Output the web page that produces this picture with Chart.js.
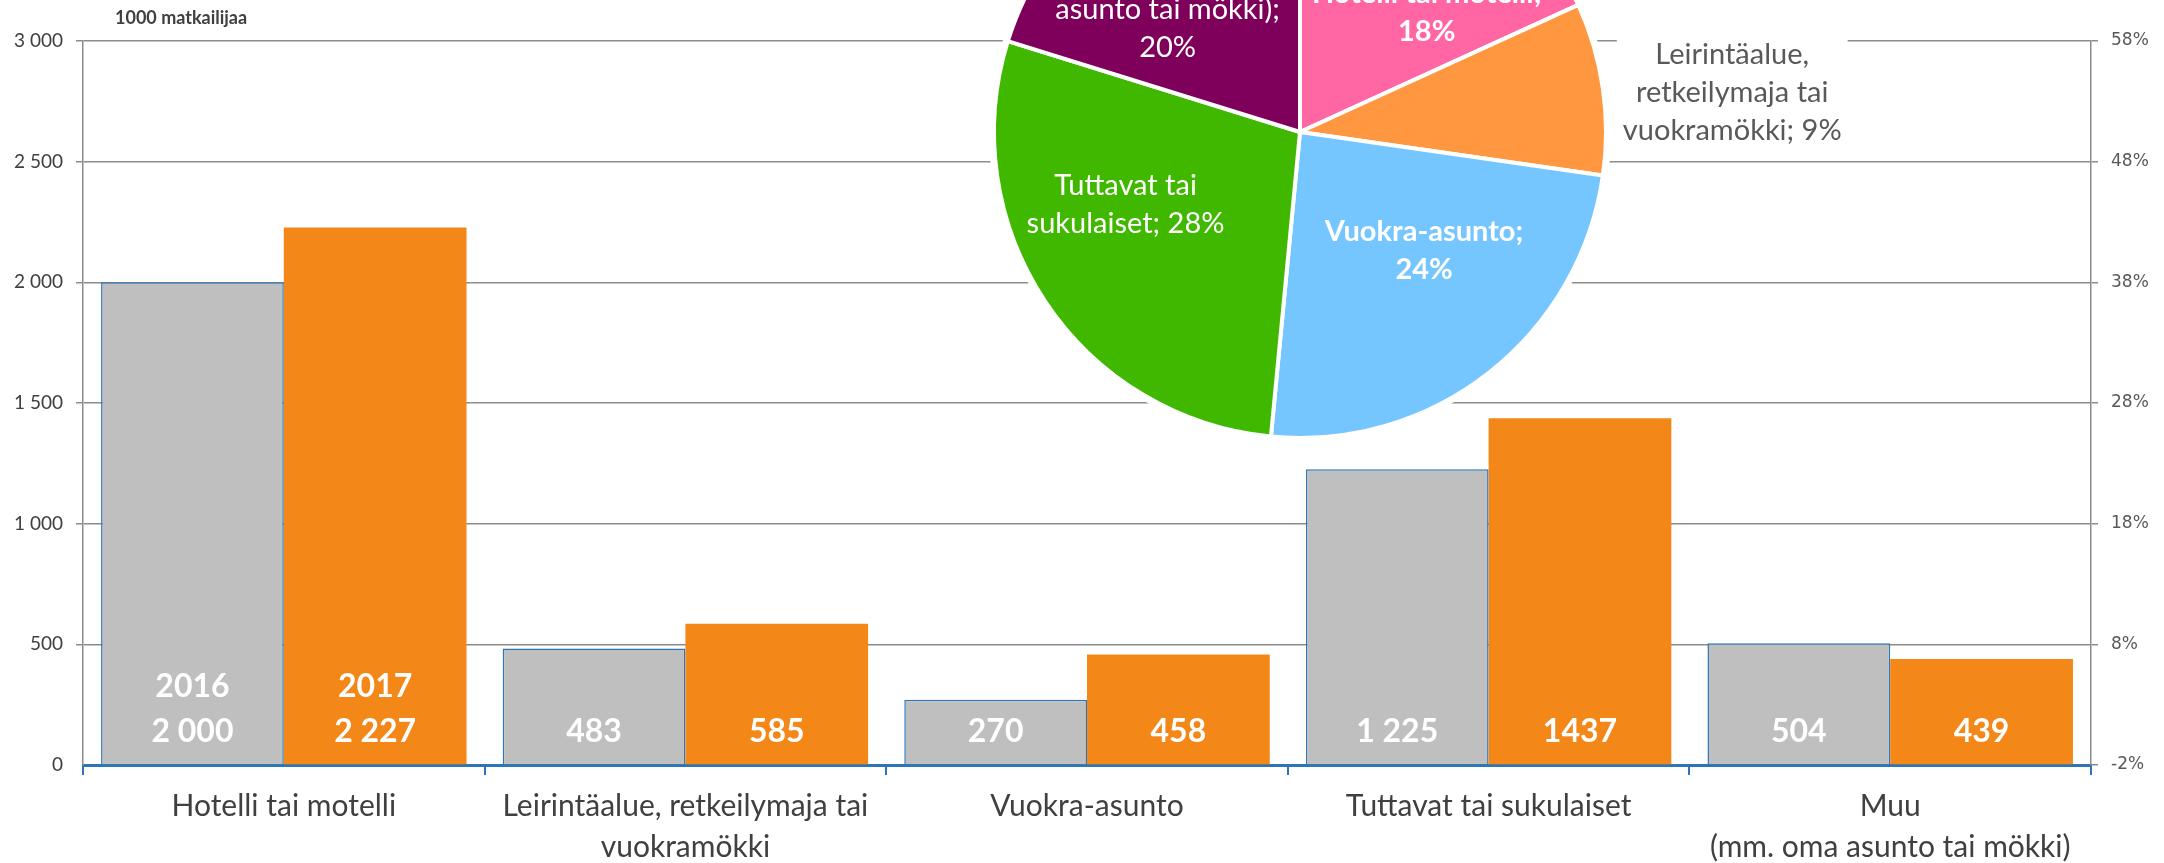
<!DOCTYPE html>
<html>
<head>
<meta charset="utf-8">
<script src="https://cdn.jsdelivr.net/npm/chart.js@4"></script>
<style>
  body { margin: 0; background: #fff; overflow: hidden; }
  #wrap { position: relative; width: 2164px; height: 863px; overflow: hidden; }
  #bars { position: absolute; left: 0; top: 0; }
  #pieBox { position: absolute; left: 700px; top: -218px; }
  #unit { position: absolute; left: 115px; top: 6px; font: bold 18px Lato, sans-serif; color: #404040; }
</style>
</head>
<body>
<div id="wrap">
  <canvas id="bars" width="2164" height="863"></canvas>
  <canvas id="pieBox" width="1200" height="700"></canvas>
  <div id="unit">1000 matkailijaa</div>
</div>
<script>
// ------------ data -----------------------

var categories = [
  "Hotelli tai motelli",
  ["Leirintäalue, retkeilymaja tai", "vuokramökki"],
  "Vuokra-asunto",
  "Tuttavat tai sukulaiset",
  ["Muu", "(mm. oma asunto tai mökki)"]
];
var years = ["2016", "2017"];
var values2016 = [2000, 483, 270, 1225, 504];
var values2017 = [2227, 585, 458, 1437, 439];
var text2016 = ["2 000", "483", "270", "1 225", "504"];
var text2017 = ["2 227", "585", "458", "1437", "439"];

var pieNames = ["Hotelli tai motelli", "Leirintäalue, retkeilymaja tai vuokramökki", "Vuokra-asunto", "Tuttavat tai sukulaiset", "Muu (mm. oma asunto tai mökki)"];
var pieShares = [18, 9, 24, 28, 20];
var pieLabelLines = [
  ["Hotelli tai motelli;", "18%"],
  ["Leirintäalue,", "retkeilymaja tai", "vuokramökki; 9%"],
  ["Vuokra-asunto;", "24%"],
  ["Tuttavat tai", "sukulaiset; 28%"],
  ["Muu (mm. oma", "asunto tai mökki);", "20%"]
];

// ------------ label placement (pie) ------

var pieLabelDist = [174, 434, 172, 189, 180];
var pieLabelShift = [14, 3, -8, 11, -11];
var pieLabelBold = [true, false, true, false, false];
var pieLabelColor = ["#fff", "#595959", "#fff", "#fff", "#fff"];

// ------------ bar value labels -----------

var barLabels = {
  id: "barLabels",
  afterDatasetsDraw: function (chart) {
    var ctx = chart.ctx;
    var base = chart.scales.y.getPixelForValue(0);
    var texts = [text2016, text2017];
    ctx.save();
    ctx.fillStyle = "#fff";
    ctx.font = "bold 32px Lato, sans-serif";
    ctx.textAlign = "center";
    ctx.textBaseline = "middle";
    for (var d = 0; d < 2; d++) {
      var meta = chart.getDatasetMeta(d);
      for (var i = 0; i < meta.data.length; i++) {
        var bar = meta.data[i];
        ctx.fillText(texts[d][i], bar.x, base - 33);
        if (i === 0) {
          ctx.fillText(years[d], bar.x, base - 78);
        }
      }
    }
    ctx.restore();
  }
};

// ------------ bar chart ------------------

var barChart = new Chart(document.getElementById("bars"), {
  type: "bar",
  data: {
    labels: categories,
    datasets: [
      {
        label: years[0],
        data: values2016,
        backgroundColor: "#bfbfbf",
        borderColor: "#2e75b6",
        borderWidth: 1.5,
        yAxisID: "y"
      },
      {
        label: years[1],
        data: values2017,
        backgroundColor: "#f38718",
        borderWidth: 0,
        yAxisID: "y"
      }
    ]
  },
  options: {
    responsive: false,
    animation: false,
    devicePixelRatio: 1,
    categoryPercentage: 0.91,
    barPercentage: 1.0,
    layout: { padding: { top: 41, left: 0, right: 0, bottom: 0 } },
    plugins: { legend: { display: false }, tooltip: { enabled: false } },
    scales: {
      x: {
        afterFit: function (s) { s.height = 98; },
        grid: { drawOnChartArea: false, color: "#2e75b6", lineWidth: 2, tickLength: 10 },
        border: { color: "#2e75b6", width: 3 },
        ticks: {
          padding: 11,
          color: "#404040",
          font: { family: "Lato", size: 30, lineHeight: 1.37 },
          maxRotation: 0,
          autoSkip: false
        }
      },
      y: {
        position: "left",
        min: 0,
        max: 3000,
        afterFit: function (s) { s.width = 83; },
        grid: {
          color: function (c) { return c.tick && c.tick.value === 0 ? "rgba(0,0,0,0)" : "#8c8c8c"; },
          lineWidth: 1.5,
          tickLength: 7
        },
        border: { color: "#8c8c8c", width: 1.5 },
        ticks: {
          stepSize: 500,
          padding: 13,
          color: "#404040",
          font: { family: "Lato", size: 19 },
          callback: function (v) { return String(v).replace(/\B(?=(\d{3})+(?!\d))/g, " "); }
        }
      },
      y1: {
        position: "right",
        min: -2,
        max: 58,
        afterFit: function (s) { s.width = 73; },
        grid: { drawOnChartArea: false, color: "#8c8c8c", lineWidth: 1.5, tickLength: 7 },
        border: { color: "#8c8c8c", width: 1.5 },
        ticks: {
          stepSize: 10,
          padding: 13,
          color: "#595959",
          font: { family: "DejaVu Sans", size: 17 },
          callback: function (v) { return v + "%"; }
        }
      }
    }
  },
  plugins: [barLabels]
});

// ------------ pie labels -----------------

var pieExtras = {
  id: "pieExtras",
  beforeDatasetsDraw: function (chart) {
    var arc = chart.getDatasetMeta(0).data[0];
    var ctx = chart.ctx;
    ctx.save();
    ctx.fillStyle = "#fff";
    ctx.beginPath();
    ctx.arc(arc.x, arc.y, arc.outerRadius + 5, 0, Math.PI * 2);
    ctx.fill();
    ctx.restore();
  },
  afterDatasetsDraw: function (chart) {
    var ctx = chart.ctx;
    var arcs = chart.getDatasetMeta(0).data;
    var lh = 38;
    ctx.save();
    ctx.textAlign = "center";
    ctx.textBaseline = "middle";
    for (var i = 0; i < arcs.length; i++) {
      var a = arcs[i];
      var mid = (a.startAngle + a.endAngle) / 2 + pieLabelShift[i] * Math.PI / 180;
      var cx = a.x + Math.cos(mid) * pieLabelDist[i];
      var cy = a.y + Math.sin(mid) * pieLabelDist[i];
      var lines = pieLabelLines[i];
      ctx.font = (pieLabelBold[i] ? "bold " : "") + "29px Lato, sans-serif";
      var top = cy - (lines.length - 1) * lh / 2;
      if (pieLabelColor[i] !== "#fff") {
        var w = 0;
        for (var k = 0; k < lines.length; k++) {
          w = Math.max(w, ctx.measureText(lines[k]).width);
        }
        ctx.fillStyle = "#fff";
        ctx.fillRect(cx - w / 2 - 6, top - lh / 2 - 2, w + 12, lines.length * lh + 4);
      }
      ctx.fillStyle = pieLabelColor[i];
      for (var j = 0; j < lines.length; j++) {
        ctx.fillText(lines[j], cx, top + j * lh);
      }
    }
    ctx.restore();
  }
};

// ------------ pie chart ------------------

var pieChart = new Chart(document.getElementById("pieBox"), {
  type: "pie",
  data: {
    labels: pieNames,
    datasets: [
      {
        data: pieShares,
        backgroundColor: ["#ff66a3", "#ff9640", "#75c6fe", "#41b800", "#7f005a"],
        borderColor: "#fff",
        borderWidth: 4,
        radius: 306
      }
    ]
  },
  options: {
    responsive: false,
    animation: false,
    devicePixelRatio: 1,
    layout: { padding: 0 },
    plugins: { legend: { display: false }, tooltip: { enabled: false } }
  },
  plugins: [pieExtras]
});
</script>
</body>
</html>
